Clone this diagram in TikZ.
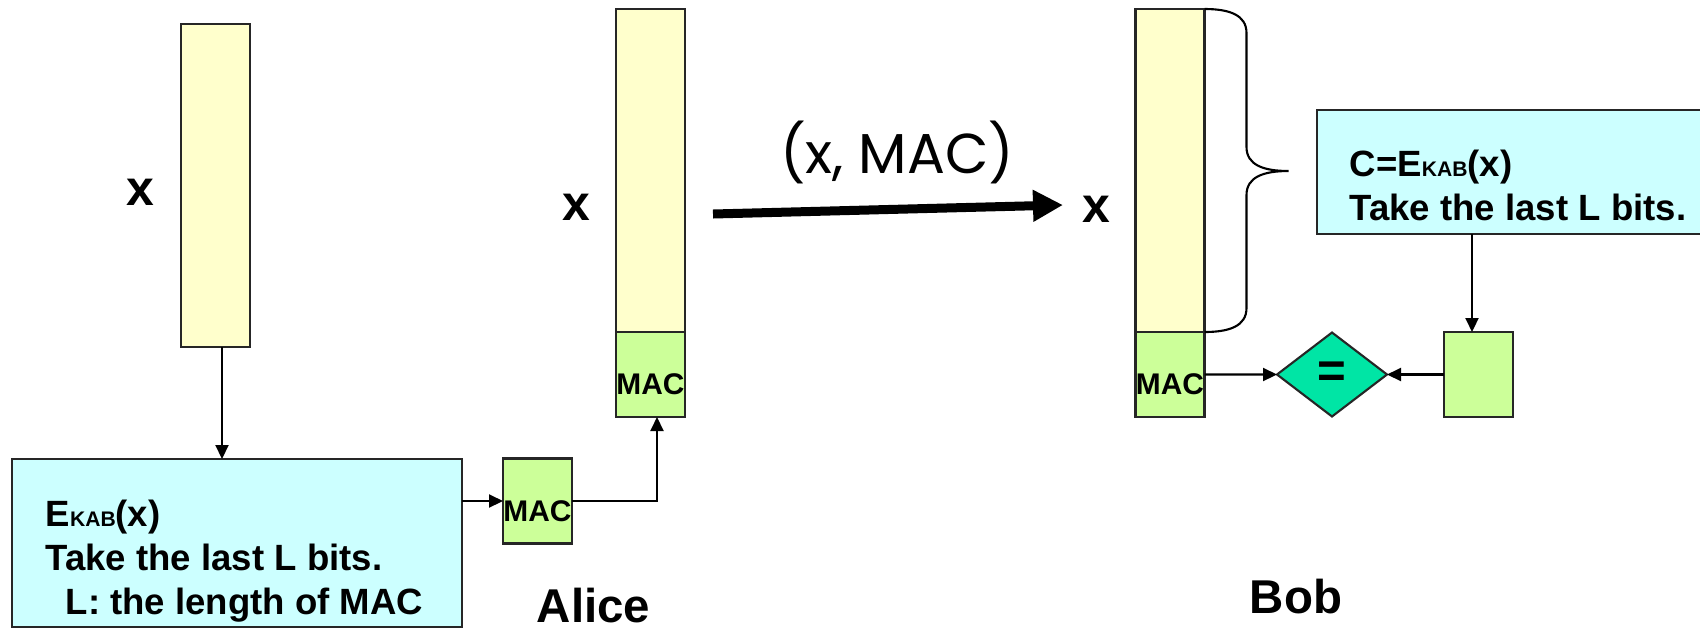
\documentclass[tikz,border=0pt]{standalone}
\usepackage{fontspec}
\setmainfont{Liberation Sans}
\newfontfamily\handfont{Poppins}
\usetikzlibrary{positioning,shapes.geometric,arrows.meta}

\definecolor{barYel}{HTML}{FFFFCC}
\definecolor{tagGrn}{HTML}{CCFF99}
\definecolor{calcCyan}{HTML}{CCFFFF}
\definecolor{cmpTeal}{HTML}{00E5A5}

\newcommand{\kab}{{\fontsize{6}{6}\selectfont KAB}}

\tikzset{
  outline/.style={draw=black!85,line width=0.6pt,outer sep=0pt},
  databar/.style={outline,fill=barYel,minimum width=0.69cm,minimum height=3.23cm,inner sep=0pt},
  tagbox/.style={outline,fill=tagGrn,minimum width=0.69cm,minimum height=0.85cm,inner sep=0pt,
    font=\fontsize{8.5}{8.5}\selectfont\bfseries,text height=0.4cm,text depth=0pt},
  calcbox/.style={outline,fill=calcCyan,inner sep=0pt},
  calctext/.style={font=\fontsize{10.4}{12.5}\selectfont\bfseries,align=left,inner sep=0pt},
  cmp/.style={outline,fill=cmpTeal,diamond,minimum width=1.1cm,minimum height=0.84cm,inner sep=0pt,
    font=\fontsize{14}{14}\selectfont\bfseries},
  bigx/.style={font=\fontsize{14.2}{14.2}\selectfont\bfseries},
  who/.style={font=\fontsize{13.5}{13.5}\selectfont\bfseries,anchor=base},
  flow/.style={-{Triangle[length=1.4mm,width=1.3mm]},line width=0.6pt},
}

\begin{document}
\begin{tikzpicture}
  \useasboundingbox (0,0) rectangle (17,6.28);

  % Alice computes the MAC
  \node[databar] (xbar) at (2.155,4.425) {};
  \node[bigx] (xA) at (1.405,4.36) {x};
  \node[calcbox,minimum width=4.5cm,minimum height=1.68cm] (enc) at (2.37,0.85) {};
  \node[calctext,anchor=base west] (enctxt) at (0.45,0.14)
    {E\kab(x)\\Take the last L bits.\\\hspace*{0.2cm}L: the length of MAC};
  \node[tagbox] (mac) at (5.375,1.27) {MAC};

  % x with the MAC appended
  \node[databar] (ayel) at (6.505,4.575) {};
  \node[tagbox,below=0pt of ayel] (amac) {MAC};
  \node[bigx] (xB) at (5.76,4.21) {x};
  \node[who] (alice) at (5.935,0.06) {Alice};

  \coordinate (tapA) at (2.22,0);
  \coordinate (tapC) at (6.57,0);
  \draw[flow] (xbar.south -| tapA) -- (enc.north -| tapA);
  \draw[flow] (enc.east |- mac.west) -- (mac.west);
  \draw[flow] (mac.east) -| (amac.south -| tapC);

  % sending
  \coordinate (sendA) at (7.13,4.14);
  \coordinate (sendB) at (10.63,4.23);
  \draw[-{Triangle[length=3mm,width=3mm]},line width=0.09cm] (sendA) -- (sendB);
  \node[font=\handfont\fontsize{16}{16}\selectfont] (msg) at (8.97,4.76) {(x, MAC)};

  % Bob checks
  \node[databar] (byel) at (11.70,4.575) {};
  \node[tagbox,below=0pt of byel] (bmac) {MAC};
  \node[bigx] (xC) at (10.96,4.19) {x};
  \draw[line width=0.6pt] (byel.north east)
    .. controls +(0.25,0) and +(0,0.18) .. ++(0.42,-0.24) -- ++(0,-1.14)
    .. controls +(0,-0.18) and +(-0.25,0) .. ++(0.42,-0.24)
    .. controls +(-0.25,0) and +(0,0.18) .. ++(-0.42,-0.24) -- ++(0,-1.13)
    .. controls +(0,-0.18) and +(0.25,0) .. (byel.south east);
  \node[calcbox,minimum width=4cm,minimum height=1.24cm] (dec) at (15.17,4.56) {};
  \node[calctext,anchor=base west] (dectxt) at (13.49,4.08)
    {C=E\kab(x)\\Take the last L bits.};
  \node[tagbox] (chk) at (14.785,2.535) {};
  \node[cmp] (eq) at (13.32,2.535) {=};
  \node[who] (bob) at (12.96,0.15) {Bob};

  \coordinate (tapB) at (14.72,0);
  \draw[flow] (dec.south -| tapB) -- (chk.north -| tapB);
  \draw[flow] (bmac.east) -- (eq.west);
  \draw[flow] (chk.west) -- (eq.east);
\end{tikzpicture}
\end{document}
